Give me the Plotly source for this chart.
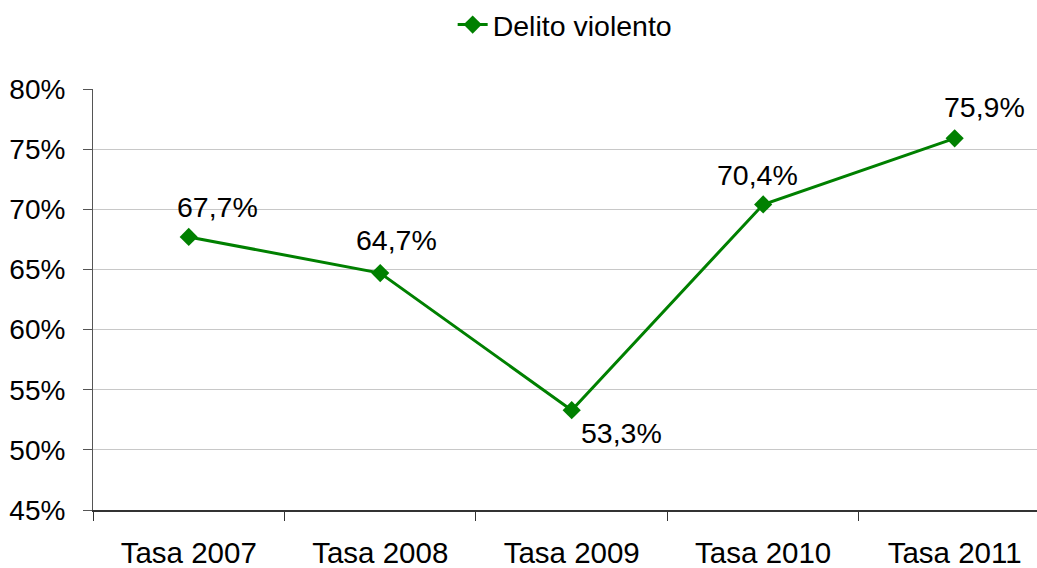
import plotly.graph_objects as go

categories = ["Tasa 2007", "Tasa 2008", "Tasa 2009", "Tasa 2010", "Tasa 2011"]
values = [0.677, 0.647, 0.533, 0.704, 0.759]
labels = ["67,7%", "64,7%", "53,3%", "70,4%", "75,9%"]
series_name = "Delito violento"
y_ticks = [0.45, 0.50, 0.55, 0.60, 0.65, 0.70, 0.75, 0.80]
y_tick_text = ["45%", "50%", "55%", "60%", "65%", "70%", "75%", "80%"]

# label pixel offsets (styling)
label_dx = [29, 16, 50, -6, 30]
label_dy = [30, 33, -23, 29, 31]

GREEN = "#008000"
FONT = "Liberation Sans, Arial, sans-serif"

fig = go.Figure()
fig.add_trace(go.Scatter(
    x=categories, y=values, name=series_name, mode="lines+markers",
    line=dict(color=GREEN, width=3),
    marker=dict(symbol="diamond", size=14, color=GREEN),
))

for c, v, t, dx, dy in zip(categories, values, labels, label_dx, label_dy):
    fig.add_annotation(x=c, y=v, text=t, showarrow=False, xshift=dx, yshift=dy,
                       font=dict(family=FONT, size=28.5, color="black"))

fig.update_layout(
    width=1037, height=568,
    margin=dict(l=93, r=0, t=89, b=58, autoexpand=False),
    paper_bgcolor="white", plot_bgcolor="white",
    font=dict(family=FONT, size=28, color="black"),
    showlegend=True,
    legend=dict(orientation="h", xref="container", yref="container",
                x=0.545, xanchor="center", y=1 - 25 / 568, yanchor="middle",
                font=dict(size=28.5), bgcolor="rgba(0,0,0,0)"),
    xaxis=dict(type="category", range=[-0.5, 4.43], tickson="boundaries",
               ticks="outside", ticklen=9, tickcolor="#333", showgrid=False,
               showline=True, linecolor="#333", linewidth=1.5, automargin=False,
               ticklabelstandoff=16, tickfont=dict(size=29.5)),
    yaxis=dict(range=[0.45, 0.80], tickvals=y_ticks, ticktext=y_tick_text,
               ticks="outside", ticklen=9, tickcolor="#555",
               showline=True, linecolor="#555", linewidth=1, automargin=False,
               showgrid=True, gridcolor="#c8c8c8", gridwidth=1,
               zeroline=False, ticklabelstandoff=12, tickfont=dict(size=28)),
)

fig.write_html("out.html", config={"displayModeBar": False},
               post_script="document.body.style.margin='0';document.body.style.overflow='hidden';")
